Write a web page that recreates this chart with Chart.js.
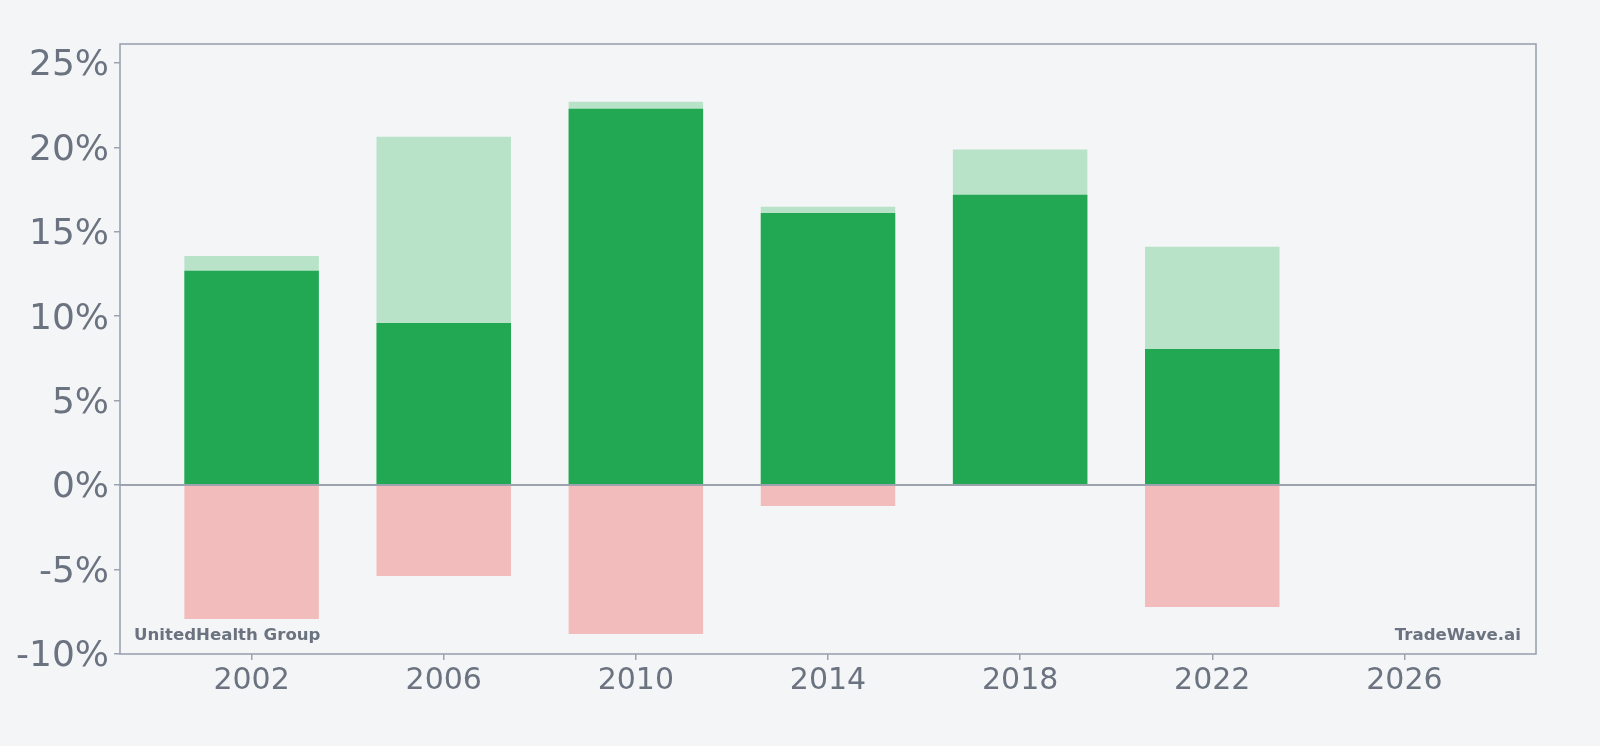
<!DOCTYPE html>
<html>
<head>
<meta charset="utf-8">
<script src="https://cdn.jsdelivr.net/npm/chart.js@4/dist/chart.umd.min.js"></script>
<style>
  html, body { margin: 0; padding: 0; background: #f4f5f7; }
  #wrap { width: 1600px; height: 746px; }
</style>
</head>
<body>
<div id="wrap"><canvas id="c" width="1600" height="746"></canvas></div>
<script>
const years = [2002, 2006, 2010, 2014, 2018, 2022];
const actualValues = [12.69, 9.60, 22.29, 16.12, 17.19, 8.06];
const highValues = [13.57, 20.63, 22.70, 16.48, 19.88, 14.11];
const lowValues = [-7.93, -5.38, -8.81, -1.23, null, -7.21];
const xTicks = [2002, 2006, 2010, 2014, 2018, 2022, 2026];
const yTicks = [-10, -5, 0, 5, 10, 15, 20, 25];
const companyName = "UnitedHealth Group";
const sourceName = "TradeWave.ai";

const GRAY_TEXT = '#6b7280';
const AXIS = '#9ca3af';

function pts(vals) { return years.map((y, i) => ({ x: y, y: vals[i] })); }

const overlay = {
  id: 'overlay',
  afterDatasetsDraw(chart) {
    const ctx = chart.ctx, a = chart.chartArea, ys = chart.scales.y;
    ctx.save();
    const y0 = Math.round(ys.getPixelForValue(0));
    ctx.strokeStyle = AXIS; ctx.lineWidth = 2;
    ctx.beginPath(); ctx.moveTo(a.left, y0); ctx.lineTo(a.right, y0); ctx.stroke();
    ctx.lineWidth = 1.6;
    ctx.strokeRect(a.left, a.top, a.right - a.left, a.bottom - a.top);
    ctx.fillStyle = GRAY_TEXT;
    ctx.font = 'bold 16.6px "DejaVu Sans"';
    ctx.textBaseline = 'alphabetic';
    ctx.textAlign = 'left';
    ctx.fillText(companyName, a.left + 14, a.bottom - 14);
    ctx.textAlign = 'right';
    ctx.fillText(sourceName, a.right - 15, a.bottom - 14);
    ctx.restore();
  }
};

new Chart(document.getElementById('c'), {
  type: 'bar',
  data: {
    datasets: [
      { data: pts(actualValues), backgroundColor: '#22a753', grouped: false, barPercentage: 0.7, categoryPercentage: 1 },
      { data: pts(highValues), backgroundColor: '#b8e3c9', grouped: false, barPercentage: 0.7, categoryPercentage: 1 },
      { data: pts(lowValues), backgroundColor: '#f3bcbc', grouped: false, barPercentage: 0.7, categoryPercentage: 1 }
    ]
  },
  options: {
    responsive: false,
    animation: false,
    devicePixelRatio: 1,
    layout: { padding: { top: 44, right: 64, left: 0, bottom: 0 } },
    plugins: { legend: { display: false }, tooltip: { enabled: false } },
    scales: {
      x: {
        type: 'linear',
        offset: false,
        min: 1999.26, max: 2028.74,
        afterBuildTicks(s) { s.ticks = xTicks.map(v => ({ value: v })); },
        afterFit(s) { s.height = 92; },
        grid: { offset: false, drawOnChartArea: false, drawTicks: true, tickLength: 6, color: AXIS, lineWidth: 1.5 },
        border: { display: false },
        ticks: { color: GRAY_TEXT, font: { family: 'DejaVu Sans', size: 30 }, padding: 3, maxRotation: 0, callback: v => String(v) }
      },
      y: {
        type: 'linear',
        min: -10, max: 26.12,
        afterBuildTicks(s) { s.ticks = yTicks.map(v => ({ value: v })); },
        afterFit(s) { s.width = 120; },
        grid: { drawOnChartArea: false, drawTicks: true, tickLength: 6, color: AXIS, lineWidth: 1.5 },
        border: { display: false },
        ticks: { color: GRAY_TEXT, font: { family: 'DejaVu Sans', size: 36 }, padding: 5, labelOffset: 3, callback: v => v + '%' }
      }
    }
  },
  plugins: [overlay]
});
</script>
</body>
</html>
